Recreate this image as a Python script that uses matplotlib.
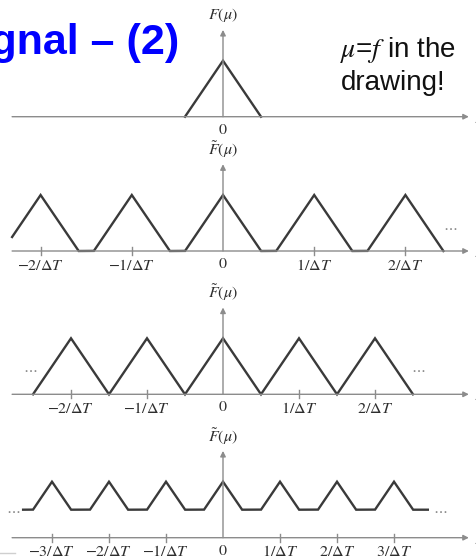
import numpy as np
import matplotlib.pyplot as plt

plt.rcParams['mathtext.fontset'] = 'stix'
plt.rcParams['font.family'] = ['Liberation Sans', 'DejaVu Sans']

# ---- spectrum definition (mu measured in units of the band limit) ----
band_limit = 1.0          # half-width of the triangular spectrum
peak = 1.0                # height of the triangular spectrum
sample_rates = [0.0, 2.4, 2.0, 1.5]      # 1/ΔT per row (0 = original, no replicas)
replica_orders = [0, 2, 2, 4]            # copies k = -n..n summed in each row
curve_start = [-1.0, -5.55, -5.0, -5.26]  # drawn portion of each curve
curve_end = [1.0, 5.8, 5.0, 5.39]
tick_orders = [[], [-2, -1, 1, 2], [-2, -1, 1, 2], [-3, -2, -1, 1, 2, 3]]
row_titles = [r"$F(\mu)$", r"$\tilde{F}(\mu)$", r"$\tilde{F}(\mu)$", r"$\tilde{F}(\mu)$"]


def tick_text(k):
    return r"$%s%d/\Delta T$" % ("-" if k < 0 else "", abs(k))


def spectrum(mu, rate, n):
    total = np.zeros_like(mu)
    for k in range(-n, n + 1):
        total += peak * np.clip(1 - np.abs(mu - k * rate) / band_limit, 0, None)
    return total


# ---- layout ----
W, H, DPI = 477, 560, 100
PX_X = 38.0     # pixels per mu unit
PX_Y = 56.0     # pixels per unit of height
X0 = 223.0      # pixel column of mu = 0
axis_rows = [116.7, 251.0, 394.3, 537.7]   # pixel row of each horizontal axis
label_top = -0.12
dot_marks = [[], [(5.97, 0.43)], [(-5.08, 0.45), (5.14, 0.45)],
             [(-5.52, 0.495), (5.72, 0.495)]]

curve_col = '#3a3a3a'
axis_col = '#8c8c8c'
text_col = '#2e2e2e'

fig = plt.figure(figsize=(W / DPI, H / DPI), dpi=DPI)
ylo, yhi = -0.6, 2.0
for i, row in enumerate(axis_rows):
    bottom_px = row + (-ylo) * PX_Y
    ax = fig.add_axes([0, 1 - bottom_px / H, 1, (yhi - ylo) * PX_Y / H])
    ax.set_xlim(-X0 / PX_X, (W - X0) / PX_X)
    ax.set_ylim(ylo, yhi)
    ax.axis('off')
    ax.patch.set_alpha(0)

    # coordinate axes with arrow heads
    ax.annotate('', xy=(6.47, 0), xytext=(-5.55, 0),
                arrowprops=dict(arrowstyle='-|>', color=axis_col, lw=1.0,
                                mutation_scale=8, shrinkA=0, shrinkB=0))
    ax.annotate('', xy=(0, 1.55), xytext=(0, 0),
                arrowprops=dict(arrowstyle='-|>', color=axis_col, lw=1.0,
                                mutation_scale=8, shrinkA=0, shrinkB=0))
    ax.text(6.64, 0, r"$\mu$", fontsize=12, color=text_col, va='center', ha='left')
    ax.text(0, 1.81, row_titles[i], fontsize=11.5, color=text_col, ha='center', va='center')

    # the spectrum
    mu = np.linspace(curve_start[i], curve_end[i], 20001)
    ax.plot(mu, spectrum(mu, sample_rates[i], replica_orders[i]),
            color=curve_col, lw=1.7, solid_joinstyle='miter')

    # tick marks and labels
    ax.text(0, label_top, "0", fontsize=11.5, color=text_col, ha='center', va='top',
            family='STIXGeneral')
    for k in tick_orders[i]:
        x = k * sample_rates[i]
        ax.plot([x, x], [-0.07, 0.07], color=axis_col, lw=1.0)
        ax.text(x, label_top, tick_text(k), fontsize=11.5, color=text_col,
                ha='center', va='top')

    for (dx, dy) in dot_marks[i]:
        ax.text(dx, dy, r"$\cdots$", fontsize=11, color='#8a8a8a', ha='center', va='center')

    if i == 3:
        ax.plot([-5.9, -5.48], [-0.27, -0.27], color='#cfcfcf', lw=1.0)

# heading and note
fig.text(179 / W, 1 - 54 / H, "Signal – (2)", ha='right', va='baseline',
         fontsize=31, fontweight='bold', color='#0000ff',
         family=['Liberation Sans Narrow', 'Liberation Sans'])
fig.text(340 / W, 1 - 57 / H, r"$\mu$=$f$ in the", ha='left', va='baseline',
         fontsize=20, color='#111111')
fig.text(341 / W, 1 - 90 / H, "drawing!", ha='left', va='baseline',
         fontsize=20, color='#111111')

fig.savefig('out.png', dpi=DPI)
